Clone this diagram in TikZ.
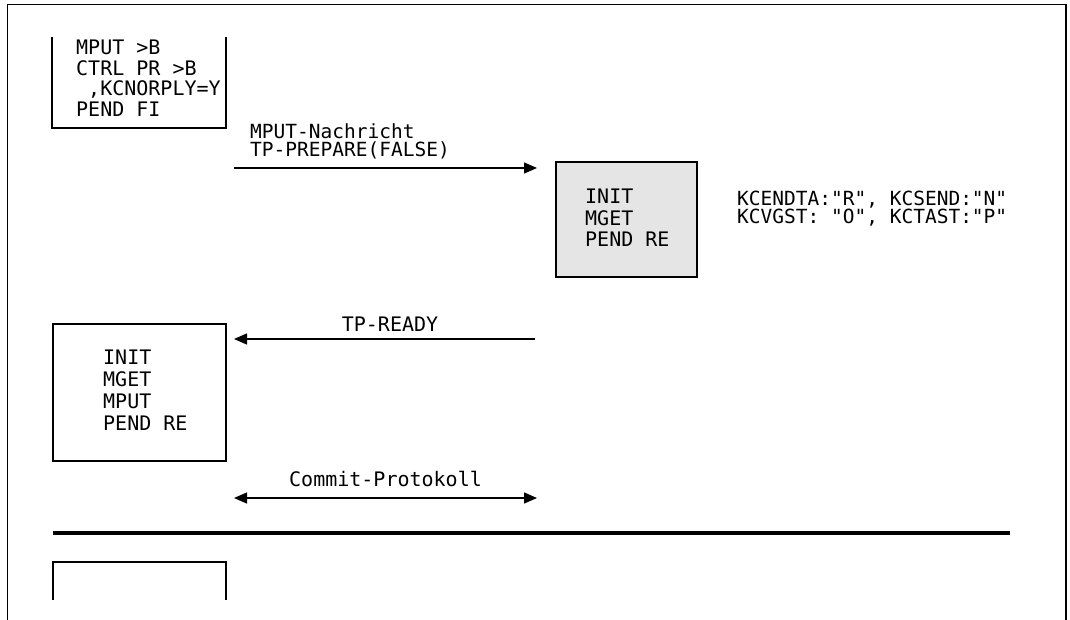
\documentclass[tikz,border=0pt]{standalone}
\usepackage{fontspec}
\newfontfamily\diagmono{DejaVu Sans Mono}
\usetikzlibrary{arrows.meta}
\definecolor{boxgray}{HTML}{E5E5E5}
\begin{document}
\begin{tikzpicture}[x=1pt,y=-1pt,
  thinline/.style={line width=1.3pt},
  txt/.style={anchor=north west,inner sep=0pt,align=left,font=\diagmono\fontsize{20}{20}\selectfont},
  msg/.style={line width=1.3pt,-{Triangle[length=13pt,width=11pt]}},
  both/.style={line width=1.3pt,{Triangle[length=13pt,width=11pt]}-{Triangle[length=13pt,width=11pt]}},
  boxnode/.style={draw,line width=1.3pt,inner sep=0pt,rectangle}]
\useasboundingbox (0,0) rectangle (1070,620);
% frame
\draw[thinline] (7.5,620) -- (7.5,4.5) -- (1066,4.5) -- (1066,620);
% top-left open box
\draw[thinline] (52,37) -- (52,128) -- (226,128) -- (226,37);
\node[txt,font=\diagmono\fontsize{20}{20.5}\selectfont] (clienttxt) at (76,40) {MPUT >B\\CTRL PR >B\\\ ,KCNORPLY=Y\\PEND FI};
% first message
\coordinate (m1s) at (234,168);
\coordinate (m1e) at (537,168);
\draw[msg] (m1s) -- (m1e);
\node[txt,font=\diagmono\fontsize{19.5}{18}\selectfont] (m1lbl) at (250,123) {MPUT-Nachricht\\TP-PREPARE(FALSE)};
% gray box
\node[boxnode,fill=boxgray,minimum width=141pt,minimum height=115pt] (srvbox) at (626.5,219.5) {};
\node[txt,font=\diagmono\fontsize{20}{21.5}\selectfont] (srvtxt) at (585,189) {INIT\\MGET\\PEND RE};
\node[txt,font=\diagmono\fontsize{19.5}{14.5}\selectfont] (kctxt) at (737,191) {KCENDTA:"R", KCSEND:"N"\\KCVGST: "O", KCTAST:"P"};
% TP-READY
\coordinate (m2s) at (535,339);
\coordinate (m2e) at (234,339);
\draw[msg] (m2s) -- (m2e);
\node[txt,anchor=north] (m2lbl) at (390,317) {TP-READY};
% lower-left box
\node[boxnode,minimum width=173pt,minimum height=137pt] (clibox) at (139.5,392.5) {};
\node[txt,font=\diagmono\fontsize{20}{22}\selectfont] (clitxt) at (103,350) {INIT\\MGET\\MPUT\\PEND RE};
% commit
\coordinate (m3s) at (234,498);
\coordinate (m3e) at (537,498);
\draw[both] (m3s) -- (m3e);
\node[txt] (m3lbl) at (289,471) {Commit-Protokoll};
% thick line
\coordinate (sepl) at (53,533);
\coordinate (sepr) at (1010,533);
\draw[line width=4.5pt] (sepl) -- (sepr);
% bottom open box
\draw[thinline] (53,600) -- (53,562) -- (226,562) -- (226,600);
\end{tikzpicture}
\end{document}
